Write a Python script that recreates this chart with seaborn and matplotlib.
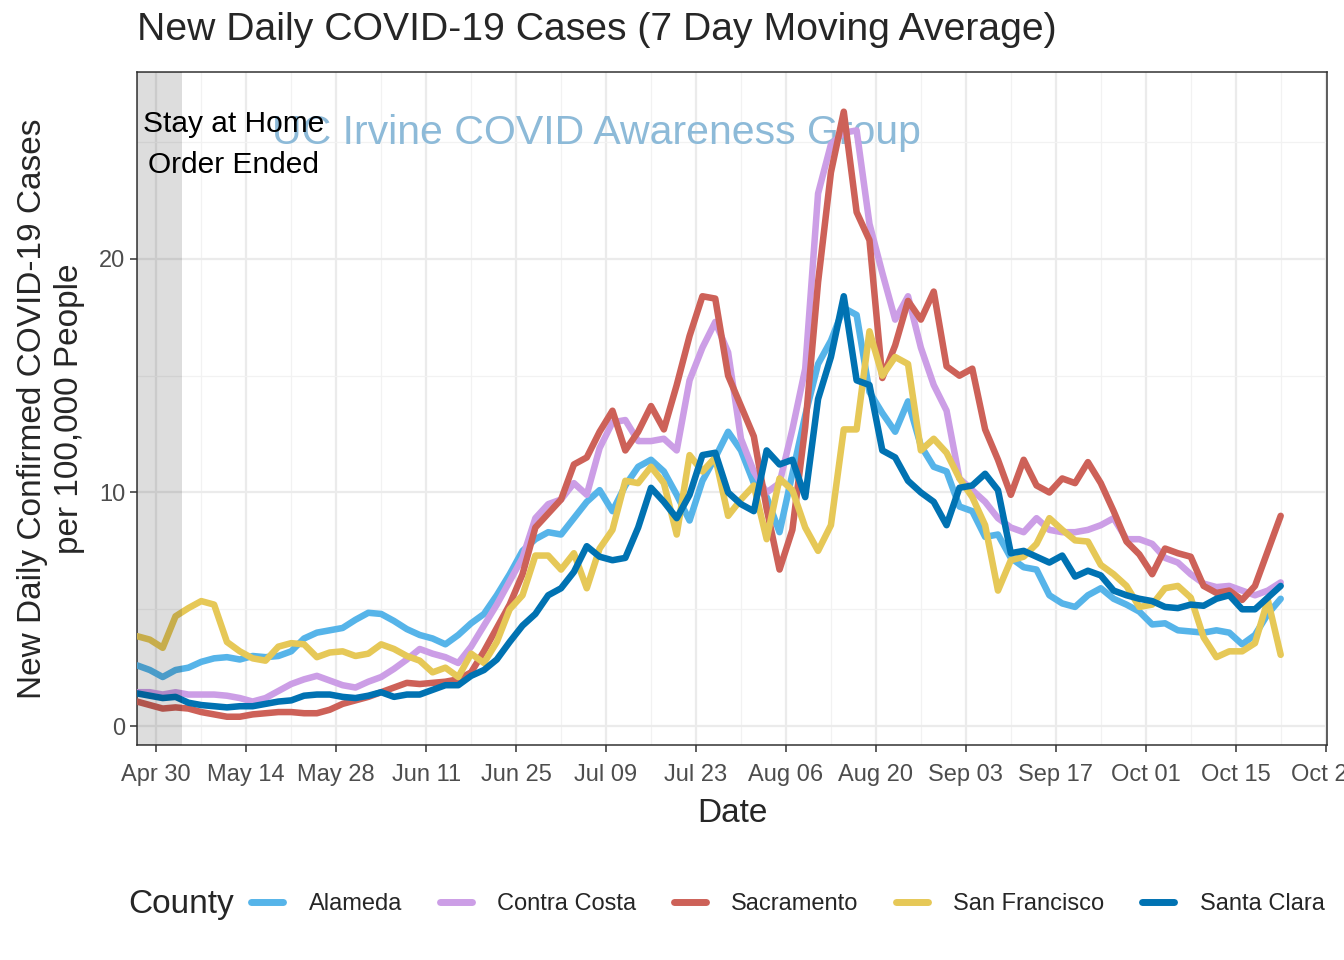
import numpy as np
import pandas as pd
import seaborn as sns
import matplotlib.pyplot as plt
import matplotlib.dates as mdates
from matplotlib.ticker import MultipleLocator

# 7 day moving average, new cases per 100,000, read every 2 days from Apr 27 2020
dates = pd.date_range('2020-04-27', periods=90, freq='2D')

alameda = [2.6, 2.4, 2.1, 2.4, 2.5, 2.75, 2.9, 2.95, 2.85, 3.0,
           2.95, 3.0, 3.2, 3.75, 4.0, 4.1, 4.2, 4.55, 4.85, 4.8,
           4.5, 4.15, 3.9, 3.75, 3.5, 3.9, 4.4, 4.8, 5.6, 6.5,
           7.5, 8.0, 8.3, 8.2, 8.9, 9.6, 10.1, 9.2, 10.3, 11.1,
           11.4, 10.9, 9.9, 8.8, 10.5, 11.5, 12.6, 11.8, 10.4, 9.8,
           8.3, 10.8, 13.3, 15.5, 16.5, 17.9, 17.6, 14.3, 13.4, 12.6,
           13.9, 12.0, 11.1, 10.9, 9.4, 9.2, 8.1, 8.2, 7.2, 6.8,
           6.7, 5.6, 5.25, 5.1, 5.6, 5.9, 5.45, 5.2, 4.9, 4.35,
           4.4, 4.1, 4.05, 4.0, 4.1, 4.0, 3.5, 3.9, 4.8, 5.45]

contra_costa = [1.45, 1.45, 1.35, 1.45, 1.35, 1.35, 1.35, 1.3, 1.2, 1.05,
                1.2, 1.5, 1.8, 2.0, 2.15, 1.95, 1.75, 1.65, 1.9, 2.1,
                2.45, 2.85, 3.3, 3.1, 2.95, 2.7, 3.4, 4.3, 5.2, 6.2,
                7.2, 8.9, 9.5, 9.7, 10.4, 9.9, 11.9, 13.0, 13.1, 12.2,
                12.2, 12.3, 11.8, 14.8, 16.2, 17.3, 16.0, 12.3, 10.9, 10.0,
                10.4, 12.7, 15.3, 22.8, 24.9, 25.4, 25.5, 21.5, 19.4, 17.4,
                18.4, 16.2, 14.6, 13.5, 10.6, 10.1, 9.6, 8.9, 8.5, 8.3,
                8.9, 8.4, 8.3, 8.3, 8.4, 8.6, 8.9, 8.0, 8.0, 7.8,
                7.2, 7.0, 6.5, 6.1, 5.95, 6.0, 5.8, 5.6, 5.8, 6.15]

sacramento = [1.05, 0.9, 0.75, 0.8, 0.75, 0.6, 0.5, 0.4, 0.4, 0.5,
              0.55, 0.6, 0.6, 0.55, 0.55, 0.7, 0.95, 1.1, 1.25, 1.45,
              1.65, 1.85, 1.8, 1.85, 1.9, 2.0, 2.3, 3.2, 4.2, 5.2,
              6.5, 8.5, 9.1, 9.7, 11.2, 11.5, 12.6, 13.5, 11.8, 12.6,
              13.7, 12.7, 14.6, 16.7, 18.4, 18.3, 15.0, 13.7, 12.4, 9.3,
              6.7, 8.4, 12.8, 19.0, 23.7, 26.3, 22.0, 20.8, 14.9, 16.3,
              18.2, 17.4, 18.6, 15.4, 15.0, 15.3, 12.7, 11.4, 9.9, 11.4,
              10.3, 10.0, 10.6, 10.4, 11.3, 10.4, 9.2, 7.9, 7.35, 6.5,
              7.6, 7.4, 7.25, 6.0, 5.7, 5.8, 5.4, 6.0, 7.5, 9.0]

san_francisco = [3.85, 3.7, 3.35, 4.7, 5.05, 5.35, 5.2, 3.6, 3.2, 2.9,
                 2.8, 3.4, 3.55, 3.5, 2.95, 3.15, 3.2, 3.0, 3.1, 3.5,
                 3.3, 3.0, 2.8, 2.3, 2.5, 2.1, 3.1, 2.7, 3.6, 5.0,
                 5.6, 7.3, 7.3, 6.7, 7.4, 5.9, 7.6, 8.4, 10.5, 10.4,
                 11.1, 10.4, 8.2, 11.6, 10.9, 11.5, 9.0, 9.7, 10.3, 8.0,
                 10.6, 10.1, 8.5, 7.5, 8.6, 12.7, 12.7, 16.9, 15.0, 15.8,
                 15.5, 11.8, 12.3, 11.7, 10.6, 9.8, 8.6, 5.8, 7.1, 7.25,
                 7.8, 8.9, 8.4, 7.95, 7.9, 6.9, 6.5, 6.0, 5.1, 5.2,
                 5.9, 6.0, 5.5, 3.8, 2.95, 3.2, 3.2, 3.55, 5.4, 3.05]

santa_clara = [1.4, 1.3, 1.2, 1.25, 1.0, 0.9, 0.85, 0.8, 0.85, 0.85,
               0.95, 1.05, 1.1, 1.3, 1.35, 1.35, 1.25, 1.2, 1.3, 1.45,
               1.25, 1.35, 1.35, 1.55, 1.75, 1.75, 2.15, 2.4, 2.85, 3.6,
               4.3, 4.8, 5.6, 5.9, 6.6, 7.7, 7.25, 7.1, 7.2, 8.5,
               10.2, 9.6, 8.9, 9.9, 11.6, 11.7, 10.0, 9.5, 9.2, 11.8,
               11.2, 11.4, 9.8, 14.0, 15.8, 18.4, 14.8, 14.6, 11.8, 11.5,
               10.5, 10.0, 9.6, 8.6, 10.2, 10.3, 10.8, 10.1, 7.4, 7.5,
               7.25, 7.0, 7.3, 6.4, 6.65, 6.45, 5.8, 5.6, 5.45, 5.35,
               5.1, 5.05, 5.2, 5.15, 5.45, 5.6, 5.0, 5.0, 5.5, 6.0]

counties = ['Alameda', 'Contra Costa', 'Sacramento', 'San Francisco', 'Santa Clara']
colores = ['#56B4E9', '#CC9EE6', '#CD6158', '#E6C857', '#0072B2']

df = pd.DataFrame({
    'Date': np.tile(dates, 5),
    'Cases': alameda + contra_costa + sacramento + san_francisco + santa_clara,
    'County': np.repeat(counties, len(dates)),
})

sns.set_theme(style='white')
plt.rcParams['font.family'] = ['Liberation Sans', 'DejaVu Sans']

fig = plt.figure(figsize=(13.44, 9.6), dpi=100)
ax = fig.add_axes([137/1344, 1-745/960, (1327-137)/1344, (745-72)/960])

sns.lineplot(data=df, x='Date', y='Cases', hue='County', hue_order=counties,
             palette=colores, linewidth=4.7, ax=ax, zorder=3)

# shaded period + annotations
ax.axvspan(pd.Timestamp('2020-04-20'), pd.Timestamp('2020-05-04'),
           color='black', alpha=0.135, lw=0, zorder=4)
ax.text(pd.Timestamp('2020-07-07 12:00'), 25.4, 'UC Irvine COVID Awareness Group',
        fontsize=29.5, color='#8DBAD8', ha='center', va='center', zorder=2)
ax.text(pd.Timestamp('2020-05-12'), 24.9, 'Stay at Home\nOrder Ended',
        fontsize=21.5, color='black', ha='center', va='center', linespacing=1.6, zorder=5)

# ticks first, then limits (set_xticks widens the view)
ticks = pd.date_range('2020-04-30', '2020-10-29', freq='14D')
minor = pd.date_range('2020-04-23', '2020-11-05', freq='7D')
ax.set_xticks(ticks)
ax.set_xticks(minor, minor=True)
ax.xaxis.set_major_formatter(mdates.DateFormatter('%b %d'))
ax.yaxis.set_major_locator(MultipleLocator(10))
ax.yaxis.set_minor_locator(MultipleLocator(5))

ax.set_xlim(pd.Timestamp('2020-04-27'), pd.Timestamp('2020-10-29 05:00'))
ax.set_ylim(-0.81, 28.0)

ax.grid(which='major', color='#EBEBEB', lw=1.6, zorder=0)
ax.grid(which='minor', color='#F2F2F2', lw=0.9, zorder=0)
ax.set_axisbelow(True)
for s in ax.spines.values():
    s.set_color('#333333')
    s.set_linewidth(1.1)

ax.tick_params(axis='both', which='major', length=5, width=1.1, color='#333333',
               labelsize=17, labelcolor='#4D4D4D', bottom=True, left=True)
ax.tick_params(axis='both', which='minor', length=0)
ax.tick_params(axis='x', pad=9)

ax.set_xlabel('Date', fontsize=24, labelpad=8)
ax.set_ylabel('New Daily Confirmed COVID-19 Cases\nper 100,000 People', fontsize=24,
              labelpad=10, linespacing=1.25)

fig.text(137/1344, 1-30/960, 'New Daily COVID-19 Cases (7 Day Moving Average)',
         fontsize=28.2, ha='left', va='center')

handles, labels = ax.get_legend_handles_labels()
ax.get_legend().remove()
for h in handles:
    h.set_linewidth(5)
fig.legend(handles, labels, loc='center left', bbox_to_anchor=(230/1344, 1-904/960),
           ncol=5, frameon=False, fontsize=17, handlelength=1.36,
           handletextpad=1.08, columnspacing=1.58)
fig.text(128/1344, 1-904/960, 'County', fontsize=24, ha='left', va='center')

fig.savefig('out.png', dpi=100)
